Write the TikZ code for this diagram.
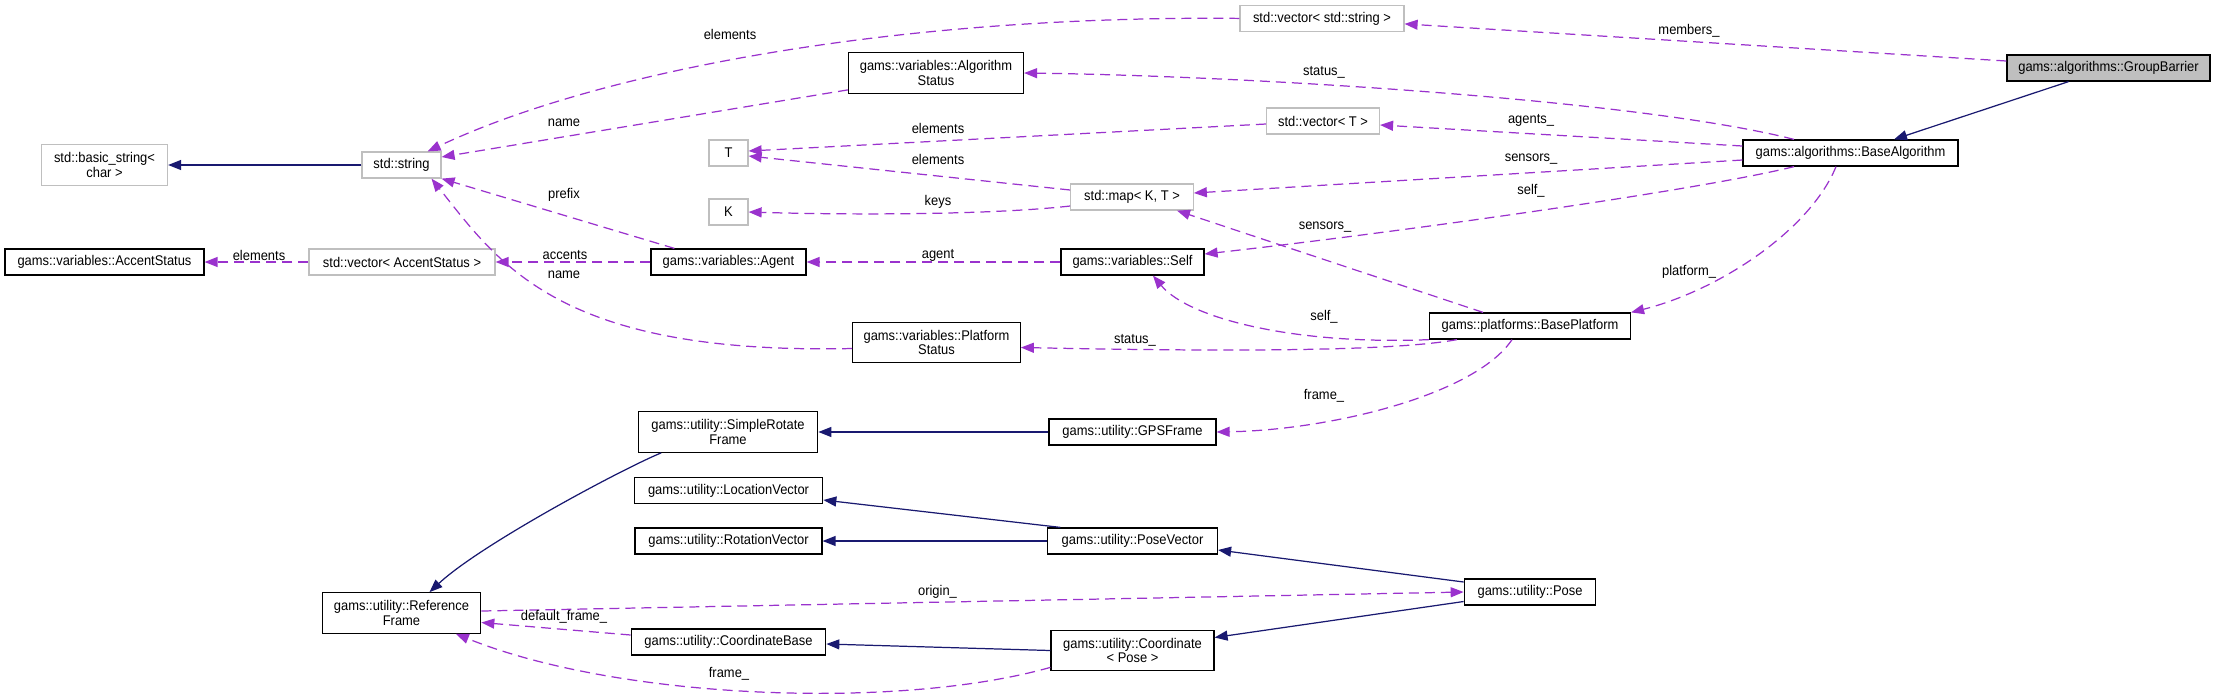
\documentclass[tikz,border=0pt]{standalone}
\usepackage{fontspec}
\setmainfont[FakeStretch=0.92]{Liberation Sans}
\usepackage{tikz}
\usetikzlibrary{arrows.meta, calc}
\definecolor{dxpurple}{HTML}{9A32CD}
\definecolor{dxnavy}{HTML}{191970}
\definecolor{dxgray}{HTML}{BFBFBF}
\tikzset{
  clsbox/.style  = {draw=black, fill=white, line width=0.7pt,
                    font=\fontsize{8}{8.2}\selectfont, inner xsep=2pt,
                    inner ysep=1pt, minimum height=0.52cm, align=center},
  extbox/.style  = {clsbox, draw=dxgray},
  curbox/.style  = {clsbox, fill=dxgray},
  twoline/.style = {minimum height=0.81cm},
  inhedge/.style = {draw=dxnavy, line width=0.7pt,
                    -{Triangle[length=0.26cm, width=0.2cm]}},
  usedge/.style  = {draw=dxpurple, line width=0.7pt,
                    dash pattern=on 0.2cm off 0.12cm,
                    -{Triangle[length=0.26cm, width=0.2cm]}},
  edgelbl/.style = {font=\fontsize{8}{8.2}\selectfont, inner sep=0pt},
}
\begin{document}
\begin{tikzpicture}[x=0.02cm, y=-0.02cm]
  \useasboundingbox (0,0) rectangle (2216,698);
  % classes
  \node[curbox, minimum width=4.06cm] (grpbar) at (2108.5,68) {gams::algorithms::GroupBarrier};
  \node[clsbox, minimum width=4.3cm] (basealg) at (1850.5,153) {gams::algorithms::BaseAlgorithm};
  \node[extbox, minimum width=3.28cm] (vecstr) at (1322,18.4) {std::vector< std::string >};
  \node[clsbox, twoline, minimum width=3.5cm] (algstat) at (936,73) {gams::variables::Algorithm\\Status};
  \node[extbox, minimum width=2.26cm] (vecT) at (1323,121) {std::vector< T >};
  \node[extbox, minimum width=0.78cm] (T) at (728.5,153) {T};
  \node[extbox, minimum width=2.45cm] (mapKT) at (1132,197) {std::map< K, T >};
  \node[extbox, minimum width=0.78cm] (K) at (728.5,212) {K};
  \node[extbox, twoline, minimum width=2.52cm] (basestr) at (104.5,165) {std::basic\_string<\\char >};
  \node[extbox, minimum width=1.58cm] (stdstr) at (401.5,165) {std::string};
  \node[clsbox, minimum width=3.98cm] (accent) at (104.5,262) {gams::variables::AccentStatus};
  \node[extbox, minimum width=3.72cm] (vecacc) at (402,262) {std::vector< AccentStatus >};
  \node[clsbox, minimum width=3.1cm] (agent) at (728.5,262) {gams::variables::Agent};
  \node[clsbox, minimum width=2.86cm] (self) at (1132.5,262) {gams::variables::Self};
  \node[clsbox, minimum width=4.02cm] (baseplat) at (1530,326) {gams::platforms::BasePlatform};
  \node[clsbox, twoline, minimum width=3.35cm] (platstat) at (936.5,342.5) {gams::variables::Platform\\Status};
  \node[clsbox, twoline, minimum width=3.59cm] (simplerot) at (728,432) {gams::utility::SimpleRotate\\Frame};
  \node[clsbox, minimum width=3.34cm] (gpsframe) at (1132.5,432) {gams::utility::GPSFrame};
  \node[clsbox, minimum width=3.77cm] (locvec) at (728.5,490.5) {gams::utility::LocationVector};
  \node[clsbox, minimum width=3.74cm] (rotvec) at (728.5,541) {gams::utility::RotationVector};
  \node[clsbox, minimum width=3.4cm] (posevec) at (1132.5,541) {gams::utility::PoseVector};
  \node[clsbox, minimum width=2.63cm] (pose) at (1530,592) {gams::utility::Pose};
  \node[clsbox, twoline, minimum width=3.17cm] (refframe) at (401.5,613) {gams::utility::Reference\\Frame};
  \node[clsbox, minimum width=3.89cm] (coordbase) at (728.5,642) {gams::utility::CoordinateBase};
  \node[clsbox, twoline, minimum width=3.26cm] (coordpose) at (1132.5,650.5) {gams::utility::Coordinate\\< Pose >};
  % inheritance
  \draw[inhedge] ([xshift=-0.8cm]grpbar.south) -- ([xshift=0.87cm]basealg.north);
  \draw[inhedge] (stdstr.west) -- (basestr.east);
  \draw[inhedge] ([xshift=0.47cm]simplerot.south west) .. controls (620,470) and (480,545) .. ([xshift=0.56cm]refframe.north);
  \draw[inhedge] (gpsframe.west) -- (simplerot.east);
  \draw[inhedge] ([xshift=0.27cm]posevec.north west) -- ([yshift=-0.19cm]locvec.east);
  \draw[inhedge] (posevec.west) -- (rotvec.east);
  \draw[inhedge] ([yshift=0.2cm]pose.west) -- ([yshift=-0.18cm]posevec.east);
  \draw[inhedge] ([yshift=-0.19cm]pose.west) -- ([yshift=0.26cm]coordpose.east);
  \draw[inhedge] (coordpose.west) -- ([yshift=-0.04cm]coordbase.east);
  % usage
  \draw[usedge] ([yshift=0.14cm]grpbar.west) -- ([yshift=-0.11cm]vecstr.east);
  \draw[usedge] ([xshift=-1.13cm]basealg.north) .. controls (1640,100) and (1250,76) .. (algstat.east);
  \draw[usedge] ([yshift=0.14cm]basealg.west) -- ([yshift=-0.08cm]vecT.east);
  \draw[usedge] ([yshift=-0.14cm]basealg.west) -- ([yshift=0.08cm]mapKT.east);
  \draw[usedge] ([xshift=-1.13cm]basealg.south) .. controls (1700,190) and (1400,232) .. ([yshift=0.16cm]self.east);
  \draw[usedge] ([xshift=-0.29cm]basealg.south) .. controls (1810,230) and (1720,290) .. (baseplat.north east);
  \draw[usedge] ([xshift=-0.94cm]baseplat.north) -- ([xshift=0.9cm]mapKT.south);
  \draw[usedge] (baseplat.south west) .. controls (1300,345) and (1190,320) .. ([xshift=0.41cm]self.south);
  \draw[usedge] ([xshift=0.56cm]baseplat.south west) .. controls (1380,354) and (1150,350) .. ([yshift=-0.1cm]platstat.east);
  \draw[usedge] ([xshift=-0.36cm]baseplat.south) .. controls (1475,395) and (1330,430) .. (gpsframe.east);
  \draw[usedge] (self.west) -- (agent.east);
  \draw[usedge] (agent.west) -- (vecacc.east);
  \draw[usedge] (vecacc.west) -- (accent.east);
  \draw[usedge] ([xshift=0.48cm]agent.north west) -- (stdstr.south east);
  \draw[usedge] ([yshift=0.08cm]algstat.south west) -- ([yshift=0.16cm]stdstr.east);
  \draw[usedge] (vecstr.west) .. controls (900,15) and (600,70) .. ([xshift=-0.28cm]stdstr.north east);
  \draw[usedge] ([yshift=-0.12cm]platstat.west) .. controls (560,355) and (500,265) .. ([xshift=0.6cm]stdstr.south);
  \draw[usedge] ([yshift=-0.06cm]vecT.west) -- ([yshift=0.04cm]T.east);
  \draw[usedge] ([yshift=0.14cm]mapKT.west) -- ([yshift=-0.06cm]T.east);
  \draw[usedge] ([yshift=-0.18cm]mapKT.west) .. controls (990,215) and (850,215) .. (K.east);
  \draw[usedge] ([yshift=0.04cm]refframe.east) -- (pose.west);
  \draw[usedge] ([yshift=0.14cm]coordbase.west) -- ([yshift=-0.19cm]refframe.east);
  \draw[usedge] ([yshift=0.08cm]coordpose.south west) .. controls (900,710) and (620,700) .. ([xshift=-0.51cm]refframe.south east);
  % labels
  \node[edgelbl] (lmembers) at (1689,31) {members\_};
  \node[edgelbl] (lvecstr) at (730,34) {elements};
  \node[edgelbl] (lalgstat) at (1324,72) {status\_};
  \node[edgelbl] (lname) at (564,123) {name};
  \node[edgelbl] (lagents) at (1531,120) {agents\_};
  \node[edgelbl] (lvecT) at (938,128) {elements};
  \node[edgelbl] (lmapT) at (938,159) {elements};
  \node[edgelbl] (lsensors) at (1531,159) {sensors\_};
  \node[edgelbl] (lself) at (1531,191) {self\_};
  \node[edgelbl] (lkeys) at (938,202) {keys};
  \node[edgelbl] (lprefix) at (564,195) {prefix};
  \node[edgelbl] (lpsensors) at (1325,227) {sensors\_};
  \node[edgelbl] (lacc) at (259,255) {elements};
  \node[edgelbl] (laccents) at (565,255) {accents};
  \node[edgelbl] (lagent) at (938,255) {agent};
  \node[edgelbl] (lpname) at (564,275) {name};
  \node[edgelbl] (lplatform) at (1689,272) {platform\_};
  \node[edgelbl] (lpself) at (1324,317) {self\_};
  \node[edgelbl] (lpstatus) at (1135,340) {status\_};
  \node[edgelbl] (lgps) at (1324,396) {frame\_};
  \node[edgelbl] (lorigin) at (937.5,592) {origin\_};
  \node[edgelbl] (ldefault) at (564,617) {default\_frame\_};
  \node[edgelbl] (lframe) at (729,674) {frame\_};
\end{tikzpicture}
\end{document}
